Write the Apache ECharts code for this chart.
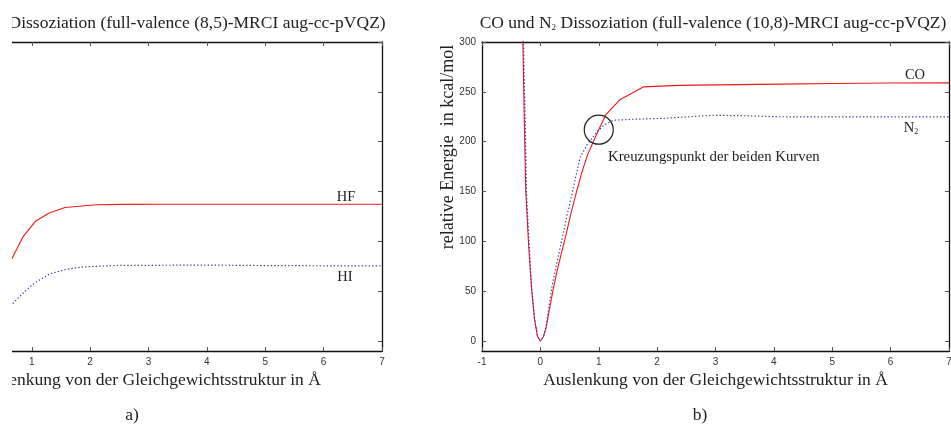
<!DOCTYPE html>
<html>
<head>
<meta charset="utf-8">
<script src="https://cdn.jsdelivr.net/npm/echarts@6/dist/echarts.min.js"></script>
<style>
html,body{margin:0;padding:0;background:#fff;}
#chart{position:absolute;left:12px;top:0;width:939px;height:425px;}
</style>
</head>
<body>
<div id="chart"></div>
<script>
var yTicks = [0, 50, 100, 150, 200, 250, 300];

// panel a) HF / HI
var hfData = [[0.5,62],[0.655,82],[0.855,105],[1.07,120.5],[1.3,128.5],[1.57,134],[2.11,136.7],[2.6,137.1],[3.2,137.3],[4,137.3],[5,137.3],[6,137.3],[7,137.3]];
var hiData = [[0.5,28],[0.655,36.5],[0.85,48],[1.04,58],[1.31,67.4],[1.6,72],[1.88,74.4],[2.45,75.8],[3.19,76],[4,76.2],[5,75.7],[6,75.5],[7,75.5]];

// panel b) CO / N2
var coData = [[-0.32,340],[-0.3,300],[-0.275,220],[-0.25,150],[-0.2,95],[-0.15,52],[-0.1,22],[-0.05,5],[0,0],[0.05,4],[0.1,14],[0.15,30],[0.22,52],[0.3,74],[0.42,102],[0.52,127],[0.62,150],[0.72,171],[0.81,187],[0.96,207],[1.12,227],[1.36,242],[1.77,255],[2.39,256.5],[3,257],[4.1,257.7],[5,258.3],[6,258.8],[7,259]];
var n2Data = [[-0.3,340],[-0.29,300],[-0.26,220],[-0.24,150],[-0.19,95],[-0.15,52],[-0.1,22],[-0.05,5],[0,0],[0.05,4],[0.1,15],[0.19,52],[0.28,78],[0.37,102],[0.46,127],[0.55,150],[0.68,184],[0.8,197],[0.97,210],[1.1,217],[1.25,221.5],[1.6,222.5],[2.1,223.4],[2.96,226.5],[3.5,226],[4.1,225],[5,224.8],[6,224.8],[7,224.8]];
var crossPoint = [1.0, 212];

var serif = '"Liberation Serif", "Times New Roman", serif';
var sans = '"Liberation Sans", Arial, sans-serif';
var xName = 'Auslenkung von der Gleichgewichtsstruktur in Å';

function xAx(grid, pos) {
	var main = pos == 'bottom';
	return {
		type: 'value', gridIndex: grid, position: pos, min: -1, max: 7, interval: 1,
		name: main ? xName : '', nameLocation: 'middle', nameGap: 18,
		nameTextStyle: {fontFamily: serif, fontSize: 17.5, color: '#222'},
		axisLine: {onZero: false, lineStyle: {color: '#111', width: 1.3}},
		axisTick: {inside: true, length: 4, lineStyle: {color: '#555'}},
		axisLabel: {show: main, margin: 6, fontFamily: sans, fontSize: 10, color: '#333'},
		splitLine: {show: false}
	};
}
function yAx(grid, pos) {
	var main = pos == 'left';
	return {
		type: 'value', gridIndex: grid, position: pos, min: -10, max: 300,
		axisLine: {onZero: false, lineStyle: {color: '#111', width: 1.3}},
		axisTick: {inside: true, length: 4, customValues: yTicks, lineStyle: {color: '#555'}},
		axisLabel: {show: main, margin: 6, customValues: yTicks, fontFamily: sans, fontSize: 10, color: '#333'},
		splitLine: {show: false}
	};
}
function txt(x, y, text, size, extra) {
	var st = {text: text, fontFamily: serif, fontSize: size, fill: '#222', align: 'center', verticalAlign: 'middle'};
	for (var k in extra) st[k] = extra[k];
	return {type: 'text', x: x, y: y, style: st};
}
var rich = {
	t: {fontFamily: serif, fontSize: 17.5, fill: '#222'},
	s: {fontFamily: serif, fontSize: 9, fill: '#222', padding: [9, 0, 0, 0]},
	l: {fontFamily: serif, fontSize: 14.5, fill: '#222'},
	ls: {fontFamily: serif, fontSize: 8, fill: '#222', padding: [8, 0, 0, 0]}
};

var myChart = echarts.init(document.getElementById('chart'));
myChart.setOption({
	animation: false,
	grid: [
		{left: -97, top: 42, width: 467, height: 309, outerBoundsMode: 'none', containLabel: false},
		{left: 470, top: 42, width: 467, height: 309, outerBoundsMode: 'none', containLabel: false}
	],
	xAxis: [xAx(0, 'bottom'), xAx(0, 'top'), xAx(1, 'bottom'), xAx(1, 'top')],
	yAxis: [yAx(0, 'left'), yAx(0, 'right'), yAx(1, 'left'), yAx(1, 'right')],
	series: [
		{name: 'HF', type: 'line', xAxisIndex: 0, yAxisIndex: 0, data: hfData, showSymbol: false,
			lineStyle: {color: '#f01818', width: 1.1}},
		{name: 'HI', type: 'line', xAxisIndex: 0, yAxisIndex: 0, data: hiData, showSymbol: false,
			lineStyle: {color: '#3434b4', width: 1.2, type: [1.3, 2.2]}},
		{name: 'CO', type: 'line', xAxisIndex: 2, yAxisIndex: 2, data: coData, showSymbol: false,
			lineStyle: {color: '#f01818', width: 1.1},
			markPoint: {
				symbol: 'circle', symbolSize: 29, silent: true,
				itemStyle: {color: 'rgba(0,0,0,0)', borderColor: '#222', borderWidth: 1.2},
				label: {show: false},
				data: [{coord: crossPoint}]
			}},
		{name: 'N2', type: 'line', xAxisIndex: 2, yAxisIndex: 2, data: n2Data, showSymbol: false,
			lineStyle: {color: '#3434b4', width: 1.2, type: [1.3, 2.2]}}
	],
	graphic: [
		txt(145, 23, '{t|HF und HI Dissoziation (full-valence (8,5)-MRCI aug-cc-pVQZ)}', 17.5, {rich: rich}),
		txt(701, 23, '{t|CO und N}{s|2}{t| Dissoziation (full-valence (10,8)-MRCI aug-cc-pVQZ)}', 17.5, {rich: rich}),
		{type: 'text', x: 436, y: 147, rotation: Math.PI / 2,
			style: {text: 'relative Energie  in kcal/mol', fontFamily: serif, fontSize: 18, fill: '#222', align: 'center', verticalAlign: 'middle'}},
		txt(596, 157, 'Kreuzungspunkt der beiden Kurven', 14.8, {align: 'left'}),
		txt(903, 75, 'CO', 14.5),
		txt(899, 128, '{l|N}{ls|2}', 14.5, {rich: rich}),
		txt(334, 197, 'HF', 14.5),
		txt(333, 277, 'HI', 14.5),
		txt(120, 415, 'a)', 17.5),
		txt(688, 415, 'b)', 17.5)
	]
});
</script>
</body>
</html>
